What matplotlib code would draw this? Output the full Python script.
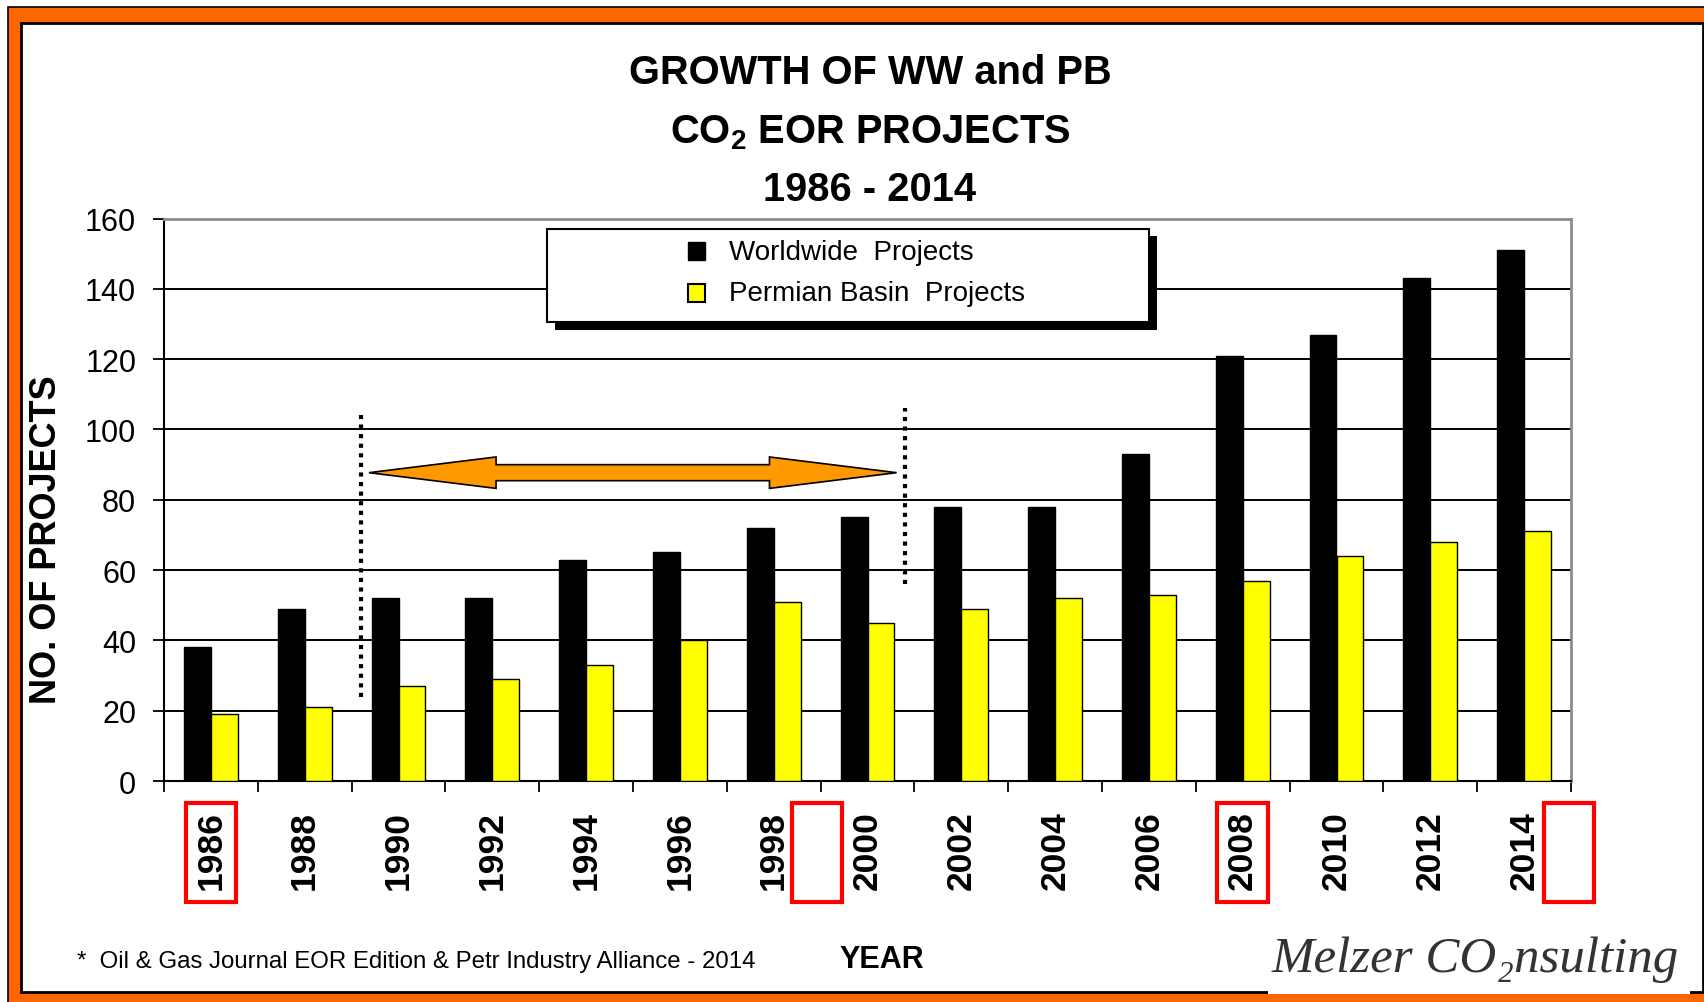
import matplotlib
matplotlib.use('Agg')
import matplotlib.pyplot as plt
from matplotlib.patches import Rectangle, Polygon
from matplotlib.transforms import blended_transform_factory
import numpy as np

plt.rcParams['font.family'] = ['Liberation Sans', 'DejaVu Sans']
plt.rcParams['mathtext.fontset'] = 'custom'
plt.rcParams['mathtext.rm'] = 'Liberation Sans:bold'
plt.rcParams['mathtext.it'] = 'Liberation Sans:bold'
plt.rcParams['mathtext.bf'] = 'Liberation Sans:bold'

# ---------------- data ----------------
years = ['1986', '1988', '1990', '1992', '1994', '1996', '1998', '2000',
         '2002', '2004', '2006', '2008', '2010', '2012', '2014']
worldwide = [38, 49, 52, 52, 63, 65, 72, 75, 78, 78, 93, 121, 127, 143, 151]
permian = [19, 21, 27, 29, 33, 40, 51, 45, 49, 52, 53, 57, 64, 68, 71]
y_ticks = [0, 20, 40, 60, 80, 100, 120, 140, 160]
series_labels = ['Worldwide  Projects', 'Permian Basin  Projects']
title_lines = ['GROWTH OF WW and PB', 'CO$_2$ EOR PROJECTS', '1986 - 2014']
y_label = 'NO. OF PROJECTS'
x_label = 'YEAR'
footnote = '*  Oil & Gas Journal EOR Edition & Petr Industry Alliance - 2014'
logo = 'Melzer CO\u2082nsulting'

W, H = 1704, 1003
fig = plt.figure(figsize=(W / 100, H / 100), dpi=100)
fig.patch.set_facecolor('white')


def fx(x):
    return x / W


def fy(y):
    return 1 - y / H


def frect(x0, y0, x1, y1, **kw):
    r = Rectangle((fx(x0), fy(y1)), fx(x1) - fx(x0), fy(y0) - fy(y1),
                  transform=fig.transFigure, **kw)
    fig.add_artist(r)
    return r


# frame: orange band + inner white panel
frect(8, 8, 1780, 1060, facecolor='#FF6600', edgecolor='black', lw=1.2, zorder=-3)
frect(21, 24, 1703, 993, facecolor='white', edgecolor='black', lw=2.0, zorder=-2)
# white box behind logo
frect(1268, 922, 1690, 995, facecolor='white', edgecolor='none', zorder=-1)

# ---------------- axes ----------------
ax = fig.add_axes([fx(164), fy(782), fx(1571) - fx(164), fy(219.5) - fy(782)])
ax.set_facecolor('white')
n = len(years)
centers = np.arange(n) + 0.5
w = 0.286
ax.bar(centers - w / 2, worldwide, width=w, color='black', edgecolor='black',
       lw=1.0, zorder=3)
ax.bar(centers + w / 2, permian, width=w, color='#FFFF00', edgecolor='black',
       lw=1.0, zorder=3)

for v in y_ticks[1:-1]:
    ax.axhline(v, color='black', lw=1.4, zorder=1)

ax.set_xlim(0, n)
ax.set_ylim(y_ticks[0], y_ticks[-1])
ax.set_yticks(y_ticks)
ax.set_yticklabels([str(v) for v in y_ticks])
ax.tick_params(axis='y', length=8, width=1.3, pad=12, labelsize=22, direction='out')

ax.set_xticks(np.arange(n + 1))
ax.set_xticklabels([])
ax.set_xticks(centers, minor=True)
ax.set_xticklabels(years, minor=True, rotation=90, fontsize=25.5, fontweight='bold')
ax.tick_params(axis='x', which='major', length=8, width=1.3, direction='out')
ax.tick_params(axis='x', which='minor', length=0, pad=21)

for s in ['top', 'right']:
    ax.spines[s].set_color('#8c8c8c')
    ax.spines[s].set_linewidth(2)
for s in ['left', 'bottom']:
    ax.spines[s].set_color('black')
    ax.spines[s].set_linewidth(1.5)

# dotted period markers
ax.plot([2.097, 2.097], [24, 104], color='black', lw=3.0, ls=(0, (1, 1.3)),
        dash_capstyle='butt', zorder=4)
ax.plot([7.9, 7.9], [56, 106], color='black', lw=3.0, ls=(0, (1, 1.3)),
        dash_capstyle='butt', zorder=4)

# orange double arrow
xl, xr, yc = 2.185, 7.81, 87.7
hl, hh, sh = 1.355, 4.47, 2.28
arrow_pts = [(xl, yc), (xl + hl, yc + hh), (xl + hl, yc + sh), (xr - hl, yc + sh),
             (xr - hl, yc + hh), (xr, yc), (xr - hl, yc - hh), (xr - hl, yc - sh),
             (xl + hl, yc - sh), (xl + hl, yc - hh)]
ax.add_patch(Polygon(arrow_pts, closed=True, facecolor='#FF9900',
                     edgecolor='black', lw=1.2, zorder=5))

# red highlight boxes around x labels
btr = blended_transform_factory(ax.transData, fig.transFigure)
for xc in [0.5, 6.96, 11.5, 14.98]:
    fig.add_artist(Rectangle((xc - 0.27, fy(903)), 0.54, fy(804) - fy(903),
                             transform=btr, fill=False, edgecolor='#FF0000',
                             lw=3.0, clip_on=False, zorder=5))

# ---------------- legend (manual with shadow) ----------------
frect(555, 237, 1157, 331, facecolor='black', edgecolor='none', zorder=5)
frect(547, 230, 1149, 323, facecolor='white', edgecolor='black', lw=1.5, zorder=6)
frect(688, 243, 705, 261, facecolor='black', edgecolor='black', lw=1.0, zorder=7)
frect(688, 285, 705, 303, facecolor='#FFFF00', edgecolor='black', lw=1.5, zorder=7)
lt1 = fig.text(fx(729), fy(253), series_labels[0], ha='left', va='center',
               fontsize=19, zorder=7)
lt2 = fig.text(fx(729), fy(294), series_labels[1], ha='left', va='center',
               fontsize=19, zorder=7)

# ---------------- texts ----------------
t1 = fig.text(fx(870), fy(84), title_lines[0], ha='center', va='baseline',
              fontsize=29, fontweight='bold')
t2 = fig.text(fx(870), fy(143), title_lines[1], ha='center', va='baseline',
              fontsize=29, fontweight='bold')
t3 = fig.text(fx(870), fy(201), title_lines[2], ha='center', va='baseline',
              fontsize=29, fontweight='bold')
yl = fig.text(fx(46.5), fy(540), y_label, rotation=90, ha='center', va='center',
              fontsize=26, fontweight='bold')
fn = fig.text(fx(77), fy(962), footnote, ha='left', va='center', fontsize=15.5)
xt = fig.text(fx(882), fy(960), x_label, ha='center', va='center', fontsize=22,
              fontweight='bold')
lg = fig.text(fx(1272), fy(972), logo, ha='left', va='baseline', fontsize=32,
              family=['Liberation Serif', 'DejaVu Serif'], style='italic',
              color='#333333')


def fit(t, target, vertical=False):
    fig.canvas.draw()
    r = fig.canvas.get_renderer()
    bb = t.get_window_extent(r)
    cur = bb.height if vertical else bb.width
    t.set_fontsize(t.get_fontsize() * target / cur)


fit(t1, 483)
fs = t1.get_fontsize()
t2.set_fontsize(fs)
t3.set_fontsize(fs)
fit(lt1, 244)
lt2.set_fontsize(lt1.get_fontsize())
fit(yl, 329, vertical=True)
fit(fn, 678)
fit(lg, 408)

fig.savefig('out.png', dpi=100, facecolor='white')
